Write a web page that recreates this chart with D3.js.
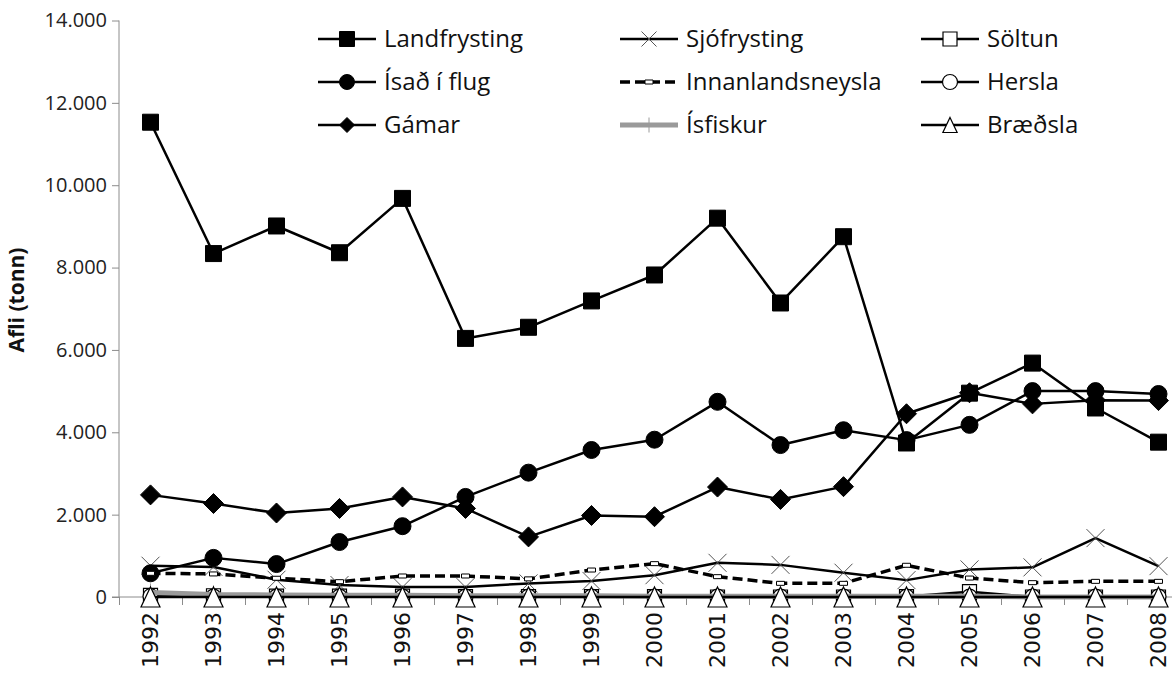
<!DOCTYPE html>
<html>
<head>
<meta charset="utf-8">
<script src="https://cdn.jsdelivr.net/npm/d3@7"></script>
<style>
  body { margin: 0; background: #fff; }
  svg { display: block; }
</style>
</head>
<body>
<div id="chart"></div>
<script>
// data
var years = ["1992","1993","1994","1995","1996","1997","1998","1999","2000","2001","2002","2003","2004","2005","2006","2007","2008"];
var landfrysting = [11530,8340,9010,8360,9680,6280,6550,7190,7820,9200,7140,8750,3740,4950,5680,4590,3760];
var sjofrysting = [760,730,420,290,240,240,330,390,530,830,780,590,410,670,720,1430,750];
var soltun = [40,30,20,20,20,10,10,10,10,0,0,0,10,130,0,0,0];
var isadiflug = [575,950,800,1335,1720,2430,3020,3570,3820,4740,3690,4050,3810,4180,5000,5000,4930];
var innanlands = [575,560,455,372,510,510,440,655,810,494,332,332,770,460,348,380,380];
var hersla = [20,10,10,10,10,10,10,10,10,10,10,10,10,10,10,10,10];
var gamar = [2480,2270,2040,2150,2430,2150,1460,1980,1950,2670,2370,2680,4450,4960,4690,4780,4770];
var isfiskur = [110,60,50,40,40,30,30,30,20,20,20,20,20,20,0,0,0];
var braedsla = [0,0,0,0,0,0,0,0,0,0,0,0,0,0,0,0,0];
var yTicks = [0,2000,4000,6000,8000,10000,12000,14000];

var W = 1172, H = 680;
var svg = d3.select("#chart").append("svg")
    .attr("width", W)
    .attr("height", H);

// scales
var x0 = 119, band = 63;
var x = d3.scaleBand()
    .domain(years)
    .range([x0, x0 + 17 * band]);
var y = d3.scaleLinear()
    .domain([0, 14000])
    .range([597, 20.5]);
var cx = function(i) { return x(years[i]) + x.bandwidth() / 2; };

var locale = d3.formatLocale({decimal: ",", thousands: ".", grouping: [3], currency: ["", ""]});
var fmt = locale.format(",d");

// Y axis
var yAxis = svg.append("g")
    .attr("transform", "translate(" + x0 + ",0)")
    .call(d3.axisLeft(y).tickValues(yTicks).tickFormat(fmt).tickSize(7).tickPadding(5));
yAxis.select(".domain").attr("stroke", "#8c8c8c").attr("d", "M0," + y(14000) + "V" + y(0));
yAxis.selectAll(".tick line").attr("stroke", "#8c8c8c");
yAxis.selectAll(".tick text")
    .attr("fill", "#222")
    .style("font-family", "'Open Sans'")
    .style("font-size", "20px");

// X axis: line plus boundary ticks
var xb = d3.scaleLinear().domain([0, 17]).range(x.range());
var xAxis = svg.append("g")
    .attr("transform", "translate(0," + y(0) + ")")
    .call(d3.axisBottom(xb).tickValues(d3.range(0, 18)).tickFormat("").tickSize(8));
xAxis.select(".domain").attr("stroke", "#8c8c8c").attr("d", "M" + (x0 - 7) + ",0H" + x.range()[1]);
xAxis.selectAll(".tick line").attr("stroke", "#8c8c8c");

// X labels
svg.append("g").selectAll("text")
    .data(years)
    .enter()
    .append("text")
      .attr("transform", function(d, i) { return "translate(" + cx(i) + ",612) rotate(-90)"; })
      .attr("text-anchor", "end")
      .attr("dy", "0.36em")
      .attr("fill", "#111")
      .style("font-family", "'DejaVu Sans'")
      .style("font-size", "22px")
      .text(function(d) { return d; });

// Y label
svg.append("text")
    .attr("transform", "translate(24,300) rotate(-90)")
    .attr("text-anchor", "middle")
    .attr("fill", "#111")
    .style("font-family", "'Open Sans'")
    .style("font-weight", "bold")
    .style("font-size", "21px")
    .text("Afli (tonn)");

// marker shapes
function markerPath(type, s) {
  if (type == "square") return "M" + (-s) + "," + (-s) + "h" + 2*s + "v" + 2*s + "h" + (-2*s) + "Z";
  if (type == "diamond") return "M0," + (-s) + "L" + s + ",0L0," + s + "L" + (-s) + ",0Z";
  if (type == "triangle") return "M0," + (-s) + "L" + (s*0.95) + "," + s + "L" + (-s*0.95) + "," + s + "Z";
  if (type == "x") return "M" + (-s) + "," + (-s) + "L" + s + "," + s + "M" + (-s) + "," + s + "L" + s + "," + (-s);
  if (type == "plus") return "M0," + (-s) + "V" + s;
  if (type == "dash") return "M-4,-2h8v4h-8Z";
  return d3.symbol().type(d3.symbolCircle).size(Math.PI * s * s)();
}

var series = [
  {name: "Landfrysting", values: landfrysting, color: "#000", width: 2.5, dash: null, marker: "square", size: 8, fill: "#000", mstroke: "#000", mw: 1},
  {name: "Sjófrysting", values: sjofrysting, color: "#000", width: 2.5, dash: null, marker: "x", size: 9, fill: "none", mstroke: "#555", mw: 1},
  {name: "Söltun", values: soltun, color: "#000", width: 2.5, dash: null, marker: "square", size: 7, fill: "#fff", mstroke: "#000", mw: 1.2},
  {name: "Ísað í flug", values: isadiflug, color: "#000", width: 2.5, dash: null, marker: "circle", size: 8.5, fill: "#000", mstroke: "#000", mw: 1},
  {name: "Innanlandsneysla", values: innanlands, color: "#000", width: 3.5, dash: "10,5", marker: "dash", size: 4, fill: "#fff", mstroke: "#000", mw: 1},
  {name: "Hersla", values: hersla, color: "#000", width: 2.5, dash: null, marker: "circle", size: 7.5, fill: "#fff", mstroke: "#000", mw: 1.2},
  {name: "Gámar", values: gamar, color: "#000", width: 2.5, dash: null, marker: "diamond", size: 10, fill: "#000", mstroke: "#000", mw: 1},
  {name: "Ísfiskur", values: isfiskur, color: "#9a9a9a", width: 5, dash: null, marker: "plus", size: 9, fill: "none", mstroke: "#9a9a9a", mw: 1},
  {name: "Bræðsla", values: braedsla, color: "#000", width: 2.5, dash: null, marker: "triangle", size: 10, fill: "#fff", mstroke: "#000", mw: 1.2}
];

var line = d3.line()
    .x(function(d, i) { return cx(i); })
    .y(function(d) { return y(d); });

series.forEach(function(s) {
  var g = svg.append("g");
  g.append("path")
      .datum(s.values)
      .attr("fill", "none")
      .attr("stroke", s.color)
      .attr("stroke-width", s.width)
      .attr("stroke-dasharray", s.dash)
      .attr("stroke-linejoin", "round")
      .attr("d", line);
  g.selectAll("path.m")
      .data(s.values)
      .enter()
      .append("path")
        .attr("class", "m")
        .attr("transform", function(d, i) { return "translate(" + cx(i) + "," + y(d) + ")"; })
        .attr("d", markerPath(s.marker, s.size))
        .attr("fill", s.fill)
        .attr("stroke", s.mstroke)
        .attr("stroke-width", s.mw);
});

// legend
var colX = [318, 620, 921], rowY = [39, 82, 125];
var legend = svg.append("g");
series.forEach(function(s, k) {
  var lx = colX[k % 3], ly = rowY[Math.floor(k / 3)];
  var g = legend.append("g").attr("transform", "translate(" + lx + "," + ly + ")");
  g.append("line")
      .attr("x1", 0).attr("x2", 58)
      .attr("stroke", s.color)
      .attr("stroke-width", s.width)
      .attr("stroke-dasharray", s.dash);
  g.append("path")
      .attr("transform", "translate(29,0)")
      .attr("d", markerPath(s.marker, s.marker == "dash" ? 4 : Math.min(s.size, 7.5)))
      .attr("fill", s.fill)
      .attr("stroke", s.mstroke)
      .attr("stroke-width", s.mw);
  g.append("text")
      .attr("x", 66)
      .attr("dy", "0.35em")
      .attr("fill", "#111")
      .style("font-family", "'Open Sans'")
      .style("font-size", "24px")
      .text(s.name);
});
</script>
</body>
</html>
